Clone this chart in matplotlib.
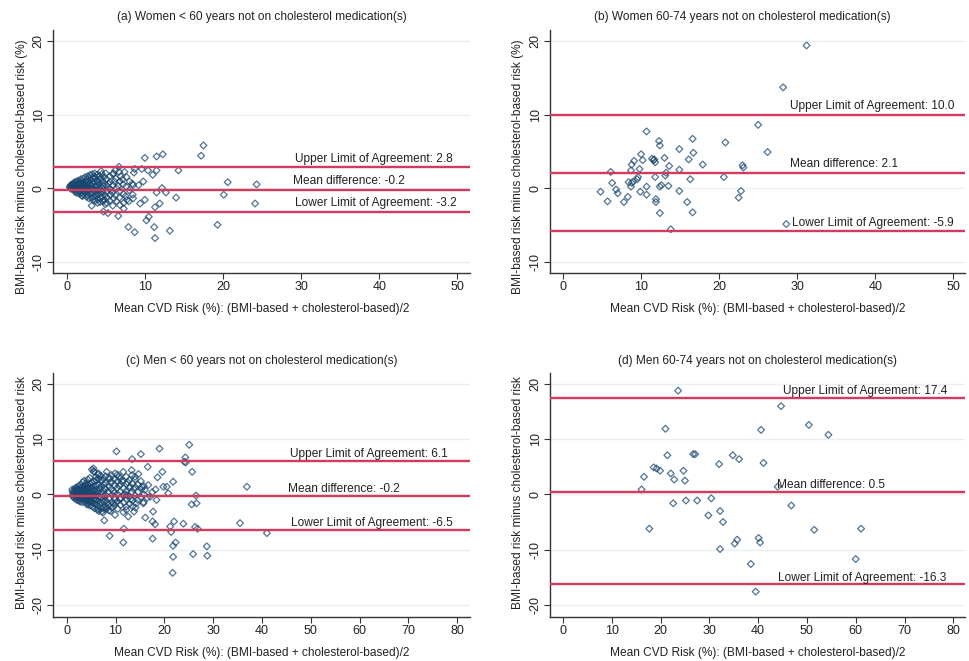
import matplotlib
matplotlib.use('Agg')
import matplotlib.pyplot as plt

plt.rcParams['font.family'] = ['Liberation Sans', 'DejaVu Sans']

# ---- data ----
# (a) women < 60
women_lt60_pts = [
    (0.4, 0.2), (0.5, 0.4), (0.45, 0.05), (0.6, 0.3), (0.65, 0.0), (0.7, 0.5), (0.55, -0.1),
    (0.8, 0.2), (0.85, 0.6), (0.9, -0.2), (0.75, 0.4), (0.95, 0.0),
    (1.0, 0.8), (1.05, 0.3), (1.1, -0.3), (0.98, 0.5), (1.15, 0.1), (1.1, -0.55),
    (1.25, 0.9), (1.3, 0.2), (1.2, -0.2), (1.35, 0.6), (1.3, -0.65), (1.4, 0.4),
    (1.5, 1.0), (1.55, 0.5), (1.6, 0.0), (1.5, -0.4), (1.65, -0.8), (1.45, 0.3), (1.6, 0.75),
    (1.8, 1.2), (1.85, 0.6), (1.75, -0.1), (1.9, -0.6), (1.8, 0.2), (1.95, -1.0), (1.85, 0.9),
    (2.1, 1.3), (2.15, 0.8), (2.05, 0.3), (2.2, -0.3), (2.1, -0.8), (2.25, 0.0), (2.0, -1.1), (2.2, 0.5),
    (2.4, 1.5), (2.45, 1.0), (2.35, 0.4), (2.5, -0.2), (2.4, -0.7), (2.55, -1.2), (2.45, 0.1),
    (2.7, 1.6), (2.75, 0.9), (2.65, 0.2), (2.8, -0.5), (2.7, -1.0), (2.85, -1.4), (2.75, 0.6), (2.6, 1.2),
    (3.0, 1.8), (3.05, 1.1), (2.95, 0.5), (3.1, -0.1), (3.0, -0.8), (3.15, -1.3), (3.05, 0.3),
    (3.3, 1.9), (3.35, 1.3), (3.25, 0.7), (3.4, 0.0), (3.3, -0.6), (3.45, -1.2), (3.35, -1.6),
    (3.6, 2.0), (3.65, 1.4), (3.55, 0.8), (3.7, 0.2), (3.6, -0.4), (3.75, -1.0), (3.65, -1.7),
    (3.9, 1.8), (3.95, 1.0), (3.85, 0.4), (4.0, -0.3), (3.9, -0.9), (4.05, -1.5), (3.95, -2.0),
    (4.2, 1.6), (4.25, 1.2), (4.15, 0.5), (4.3, -0.2), (4.2, -0.8), (4.35, -1.4), (4.25, -1.9),
    (4.5, 1.9), (4.55, 0.9), (4.45, 0.1), (4.6, -0.6), (4.5, -1.2), (4.65, -1.8), (4.4, 2.3),
    (4.8, 1.5), (4.85, 0.6), (4.75, -0.2), (4.9, -1.0), (4.8, -1.6), (4.95, -2.2),
    (5.1, 1.2), (5.15, 0.3), (5.05, -0.5), (5.2, -1.3), (5.1, -2.0), (5.0, 2.0),
    (5.5, 1.6), (5.55, 0.8), (5.45, -0.1), (5.6, -0.9), (5.5, -1.7),
    (5.9, 1.9), (5.95, 0.4), (5.85, -0.6), (6.0, -1.4), (5.9, -2.4),
    (6.3, 1.3), (6.35, 0.0), (6.25, -1.0), (6.4, -1.8), (6.2, 2.4),
    (6.8, 0.9), (6.85, -0.4), (6.75, -1.3), (6.9, 1.6),
    (7.2, 0.5), (7.25, -0.8), (7.15, 1.2), (7.3, -2.0),
    (7.6, 0.2), (7.65, 1.5), (7.55, -1.1),
    (8.0, -0.3), (8.05, 0.9), (7.95, -1.8),
    (8.4, 0.6), (8.45, -0.9),
    (1.35, 0.0), (1.7, 0.45), (2.3, -0.5), (2.6, -0.35), (2.9, 1.4), (3.2, 0.4),
    (3.5, 1.6), (3.8, -0.6), (4.1, 0.1), (4.4, 1.3), (4.7, 0.3), (5.3, 0.6),
    (5.7, -0.3), (6.1, 0.9), (6.6, 0.3), (3.45, -0.3), (2.85, -0.2), (4.0, 0.8),
    (17.5, 5.8), (17.2, 4.4), (12.3, 4.6), (11.5, 4.3), (10.0, 4.1), (14.3, 2.4),
    (20.6, 0.8), (24.3, 0.5), (20.1, -0.9), (24.1, -2.1), (19.3, -5.0), (14.0, -1.3),
    (12.7, -0.6), (12.2, 0.0), (11.5, -0.6), (11.9, -2.1), (11.3, -2.6), (13.2, -5.8),
    (11.3, -6.8), (11.2, -5.3), (10.5, -3.9), (10.2, -4.4), (8.7, -6.0), (7.9, -5.3),
    (6.6, -3.8), (5.3, -3.4), (10.4, 2.4), (11.5, 2.4), (11.0, 1.8), (9.6, 2.6),
    (8.7, 2.6), (8.6, 2.1), (9.8, 0.9), (9.2, 0.4), (8.5, 0.4), (10.0, -1.6),
    (9.4, -2.1), (8.5, -1.4), (7.7, -1.6), (7.3, -2.8), (6.8, -2.3), (6.7, 2.9),
    (6.7, 2.2), (7.4, 2.2), (6.0, 2.0), (3.2, -2.4), (4.7, -3.2),
]
women_lt60_loa = (-3.2, -0.2, 2.8)

# (b) women 60-74
women_6074_pts = [
    (31.2, 19.4), (28.2, 13.7), (25.0, 8.6), (26.2, 4.9), (20.8, 6.2), (20.6, 1.5),
    (23.0, 3.1), (23.1, 2.8), (22.8, -0.4), (22.5, -1.3), (28.6, -4.9), (16.6, 6.7),
    (16.7, 4.8), (16.1, 3.9), (17.9, 3.2), (16.3, 1.2), (15.9, -1.9), (16.6, -3.3),
    (14.9, 5.3), (14.9, 2.5), (14.9, -0.4), (13.8, -5.6), (12.3, 6.4), (12.4, 5.8),
    (13.0, 4.1), (13.6, 3.0), (13.2, 2.1), (13.1, 1.7), (13.5, 0.3), (12.6, 0.4),
    (12.4, 0.2), (11.8, 1.5), (11.6, 3.8), (11.8, 3.5), (11.4, 4.0), (11.9, -1.5),
    (11.9, -1.9), (12.4, -3.4), (10.7, 7.7), (10.0, 4.6), (10.2, 3.8), (9.8, 2.6),
    (9.6, 1.5), (9.5, 1.2), (10.7, 0.2), (10.7, -0.9), (9.9, -0.5), (9.1, 3.7),
    (8.8, 3.2), (8.7, 2.4), (8.8, 0.7), (8.7, 0.2), (8.4, 0.8), (8.3, -1.2),
    (7.8, -1.9), (7.0, -0.7), (6.8, -0.2), (6.3, 0.7), (6.1, 2.2), (5.7, -1.8),
    (4.8, -0.5), (11.7, 3.9), (9.0, 0.9),
]
women_6074_loa = (-5.9, 2.1, 10.0)

# (c) men < 60
men_lt60_pts = [
    (1.2, 0.5), (1.25, 0.0), (1.15, 0.9), (1.3, -0.4),
    (1.6, 0.7), (1.65, 0.2), (1.55, -0.3), (1.7, 1.1), (1.6, -0.7),
    (2.0, 0.9), (2.05, 0.4), (1.95, -0.1), (2.1, -0.6), (2.0, 1.3), (2.05, -1.0),
    (2.4, 1.0), (2.45, 0.5), (2.35, 0.0), (2.5, -0.5), (2.4, 1.5), (2.45, -1.1),
    (2.8, 1.2), (2.85, 0.6), (2.75, 0.1), (2.9, -0.4), (2.8, -0.9), (2.85, 1.7), (2.75, -1.3),
    (3.2, 1.3), (3.25, 0.7), (3.15, 0.2), (3.3, -0.3), (3.2, -0.8), (3.25, 2.2), (3.15, -1.4),
    (3.6, 1.5), (3.65, 0.8), (3.55, 0.3), (3.7, -0.2), (3.6, -0.8), (3.65, -1.3), (3.55, 2.5),
    (4.0, 1.6), (4.05, 1.0), (3.95, 0.4), (4.1, -0.2), (4.0, -0.7), (4.05, -1.2), (3.95, 2.0), (4.1, -1.8),
    (4.4, 1.8), (4.45, 1.1), (4.35, 0.5), (4.5, -0.1), (4.4, -0.6), (4.45, -1.2), (4.35, 2.7), (4.5, -1.9),
    (4.8, 2.0), (4.85, 1.2), (4.75, 0.5), (4.9, 0.0), (4.8, -0.6), (4.85, -1.3), (4.75, 3.0), (4.9, -2.0),
    (5.2, 2.2), (5.25, 1.3), (5.15, 0.6), (5.3, 0.0), (5.2, -0.7), (5.25, -1.4), (5.15, 4.5), (5.3, -2.2),
    (5.6, 2.4), (5.65, 1.5), (5.55, 0.7), (5.7, -0.1), (5.6, -0.8), (5.65, -1.6), (5.55, 4.2), (5.7, -2.5),
    (6.0, 2.6), (6.05, 1.6), (5.95, 0.6), (6.1, -0.2), (6.0, -1.0), (6.05, -1.8), (5.95, 3.2),
    (6.5, 2.8), (6.55, 1.7), (6.45, 0.5), (6.6, -0.4), (6.5, -1.2), (6.55, -2.1), (6.45, 3.6), (6.6, -3.0),
    (7.0, 2.5), (7.05, 1.4), (6.95, 0.3), (7.1, -0.6), (7.0, -1.5), (7.05, -2.5), (6.95, 3.4),
    (7.5, 2.9), (7.55, 1.8), (7.45, 0.7), (7.6, -0.3), (7.5, -1.3), (7.55, -2.3), (7.45, -3.3),
    (8.0, 3.3), (8.05, 2.0), (7.95, 0.9), (8.1, -0.2), (8.0, -1.1), (8.05, -2.2),
    (8.6, 3.0), (8.65, 1.5), (8.55, 0.4), (8.7, -0.8), (8.6, -1.9), (8.65, -2.9),
    (9.2, 3.5), (9.25, 2.2), (9.15, 1.0), (9.3, -0.1), (9.2, -1.4), (9.25, -2.4),
    (9.8, 2.8), (9.85, 1.6), (9.75, 0.3), (9.9, -0.9), (9.8, -2.0),
    (10.4, 3.6), (10.45, 2.4), (10.35, 1.2), (10.5, 0.0), (10.4, -1.2), (10.45, -2.6),
    (11.0, 3.0), (11.05, 1.8), (10.95, 0.5), (11.1, -0.7), (11.0, -1.9),
    (11.6, 2.5), (11.65, 1.1), (11.55, -0.2), (11.7, -1.5), (11.6, -3.2),
    (12.2, 3.2), (12.25, 1.9), (12.15, 0.6), (12.3, -0.9), (12.2, -2.2),
    (12.8, 2.6), (12.85, 1.2), (12.75, -0.3), (12.9, -1.7),
    (13.4, 3.5), (13.45, 2.0), (13.35, 0.4), (13.5, -1.1),
    (14.0, 2.7), (14.05, 1.3), (13.95, -0.2), (14.1, -2.4),
    (14.6, 1.8), (14.65, 0.5), (14.55, -1.0),
    (15.2, 2.4), (15.25, 1.0), (15.15, -0.5),
    (15.8, 1.5), (15.85, 0.0), (15.75, -1.4),
    (1.4, 0.25), (1.8, -0.35), (2.2, 0.75), (2.6, 0.25), (3.0, -0.6), (3.4, 1.0),
    (3.8, -0.5), (4.2, 1.3), (4.6, 0.2), (5.0, -0.3), (5.4, 1.0), (5.8, -1.2),
    (6.25, 0.1), (6.75, 1.0), (7.25, -1.0), (7.75, 1.2), (8.3, -1.5), (8.9, 2.2),
    (9.5, 0.6), (10.1, -1.5), (10.7, 1.6), (11.3, 2.4), (11.9, 0.0), (12.5, 2.2),
    (13.1, -0.9), (13.7, 1.0), (6.3, -2.5), (7.8, -2.7), (9.0, -3.0), (4.3, -1.5),
    (17.5, 0.4), (18.2, 0.9), (16.5, -0.6),
    (10.2, 7.8), (19.0, 8.3), (25.1, 9.0), (24.3, 6.7), (24.1, 5.9), (24.4, 5.8),
    (13.4, 6.4), (15.2, 7.3), (25.7, 4.1), (19.6, 4.1), (16.6, 5.0), (18.6, 3.1),
    (19.8, 1.4), (20.5, 1.4), (20.8, 0.2), (21.8, 2.3), (36.9, 1.4), (26.5, -0.2),
    (26.6, -1.6), (25.6, -1.8), (23.9, -5.3), (35.5, -5.2), (26.3, -5.9), (26.8, -6.2),
    (41.0, -7.0), (21.4, -6.8), (22.0, -4.9), (21.2, -5.8), (22.3, -8.7), (21.8, -9.3),
    (21.8, -11.3), (21.7, -14.2), (25.9, -10.8), (28.7, -9.4), (28.8, -11.1), (17.6, -8.0),
    (11.6, -8.7), (8.8, -7.5), (11.7, -6.2), (7.7, -4.7), (9.9, -3.7), (17.7, -3.1),
    (17.6, -4.9), (18.1, -5.4), (16.1, -4.2), (17.1, -0.4), (18.4, -1.0), (15.7, -1.6),
    (14.3, -1.6), (13.5, -2.2), (12.2, -2.8), (12.6, -4.0), (13.8, -3.1), (14.0, 3.2),
    (14.7, 3.7), (13.3, 4.4), (11.6, 4.1), (10.6, 3.2), (9.9, 3.8), (8.9, 2.9),
    (7.2, 2.6), (5.5, 4.7), (5.6, 4.1), (6.5, 3.8), (8.2, 4.1), (15.4, 1.4),
    (16.0, 0.8), (16.7, 1.7), (13.0, 1.4), (12.3, -0.1), (10.9, -0.7), (9.6, -1.6),
    (8.3, -2.5), (7.2, -3.1), (6.3, -2.8),
]
men_lt60_loa = (-6.5, -0.2, 6.1)

# (d) men 60-74
men_6074_pts = [
    (23.6, 18.8), (44.7, 16.0), (21.0, 11.9), (40.6, 11.7), (50.4, 12.6), (54.4, 10.8),
    (21.4, 7.1), (26.7, 7.3), (27.1, 7.3), (34.8, 7.1), (36.1, 6.4), (32.0, 5.5),
    (41.1, 5.7), (18.6, 4.9), (19.2, 4.7), (19.9, 4.3), (16.6, 3.2), (22.1, 3.8),
    (22.8, 2.7), (24.7, 4.3), (25.0, 2.5), (16.1, 0.9), (44.0, 1.4), (22.6, -1.6),
    (25.2, -1.1), (27.5, -1.1), (30.4, -0.7), (29.8, -3.8), (32.2, -3.0), (32.8, -5.0),
    (46.8, -2.0), (17.7, -6.2), (51.5, -6.4), (61.1, -6.2), (35.7, -8.2), (35.2, -8.9),
    (40.1, -7.9), (40.4, -8.7), (32.2, -9.9), (38.5, -12.6), (60.0, -11.7), (39.5, -17.6),
]
men_6074_loa = (-16.3, 0.5, 17.4)

titles = ["(a) Women < 60 years not on cholesterol medication(s)",
          "(b) Women 60-74 years not on cholesterol medication(s)",
          "(c) Men < 60 years not on cholesterol medication(s)",
          "(d) Men 60-74 years not on cholesterol medication(s)"]
xlabel = "Mean CVD Risk (%): (BMI-based + cholesterol-based)/2"
ylabels = ["BMI-based risk minus cholesterol-based risk (%)",
           "BMI-based risk minus cholesterol-based risk"]

W, H = 969, 661
fig = plt.figure(figsize=(W / 100, H / 100), dpi=100)
fig.patch.set_facecolor('white')

MARK = '#1a476f'
LINE = '#d43a5e'
GRID = '#e8f0f2'
TXT = '#222222'
FS = 8.6


def px_axes(l, t, r, b):
    return fig.add_axes([l / W, 1 - b / H, (r - l) / W, (b - t) / H])


panels = [
    # pts, loa, box (px), xlim, ylim, xticks, yticks, text x, text dy, title px, ylabel idx, ylabel px
    (women_lt60_pts, women_lt60_loa, (53, 30, 470, 273), (-1.75, 51.6), (-11.55, 21.5),
     range(0, 51, 10), [-10, 0, 10, 20], (29.2, 29.0, 29.2), 1.15, (262, 17), 0, (22, 167)),
    (women_6074_pts, women_6074_loa, (550, 30, 965, 273), (-1.67, 51.5), (-11.55, 21.5),
     range(0, 51, 10), [-10, 0, 10, 20], (29.3, 29.1, 29.1), 1.15, (742, 17), 0, (518, 167)),
    (men_lt60_pts, men_lt60_loa, (53, 373, 470, 617), (-2.8, 82.6), (-22.2, 22.0),
     range(0, 81, 10), [-20, -10, 0, 10, 20], (45.9, 45.3, 45.7), 1.25, (262, 361), 1, (22, 493)),
    (men_6074_pts, men_6074_loa, (550, 373, 965, 617), (-2.66, 82.4), (-22.2, 22.0),
     range(0, 81, 10), [-20, -10, 0, 10, 20], (44.1, 43.9, 45.1), 1.25, (758, 361), 1, (518, 493)),
]

labels = ["Lower Limit of Agreement: ", "Mean difference: ", "Upper Limit of Agreement: "]

for i, (pts, loa, box, xl, yl, xt, yt, tx, dy, tpos, yli, ylpos) in enumerate(panels):
    ax = px_axes(*box)
    ax.set_xlim(*xl)
    ax.set_ylim(*yl)
    for g in yt:
        ax.axhline(g, color=GRID, lw=1.0, zorder=0)
    xs = [p[0] for p in pts]
    ys = [p[1] for p in pts]
    ax.scatter(xs, ys, marker='D', s=12, facecolors='none', edgecolors=MARK,
               linewidths=0.9, alpha=0.75, zorder=2)
    for k, v in enumerate(loa):
        ax.axhline(v, color=LINE, lw=1.7, zorder=3)
        ax.text(tx[k], v + dy, labels[k] + "%.1f" % v, fontsize=FS, color=TXT,
                va='center', ha='left', zorder=4)
    ax.set_xticks(list(xt))
    ax.set_yticks(yt)
    ax.set_yticklabels([str(v) for v in yt], rotation=90, va='center')
    ax.tick_params(direction='out', length=4, width=0.8, colors='#333333',
                   labelsize=FS + 0.4, labelcolor=TXT, pad=2)
    for s in ('top', 'right'):
        ax.spines[s].set_visible(False)
    for s in ('left', 'bottom'):
        ax.spines[s].set_color('#333333')
        ax.spines[s].set_linewidth(1.0)
    fig.text(tpos[0] / W, 1 - tpos[1] / H, titles[i], fontsize=FS, color=TXT,
             ha='center', va='center')
    xc = 262 if i % 2 == 0 else 758
    yc = 309 if i < 2 else 653
    fig.text(xc / W, 1 - yc / H, xlabel, fontsize=FS, color=TXT, ha='center', va='center')
    fig.text(ylpos[0] / W, 1 - ylpos[1] / H, ylabels[yli], fontsize=FS, color=TXT,
             ha='center', va='center', rotation=90)

fig.savefig('out.png', dpi=100)
